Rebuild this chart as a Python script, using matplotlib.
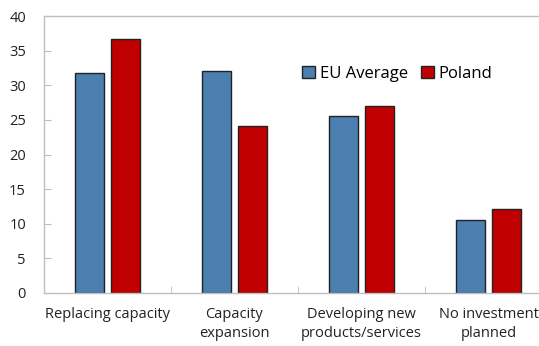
import numpy as np
import matplotlib.pyplot as plt

plt.rcParams['font.family'] = ['Open Sans', 'DejaVu Sans']

categories = ["Replacing capacity", "Capacity\nexpansion",
              "Developing new\nproducts/services", "No investment\nplanned"]
eu_average = [31.8, 32.1, 25.6, 10.5]
poland = [36.7, 24.1, 27.0, 12.1]

fig = plt.figure(figsize=(5.39, 3.46), dpi=100)
ax = fig.add_axes([44 / 539, 1 - 293 / 346, 508 / 539, 277 / 346])

x = np.arange(len(categories))
w = 0.228
off = 0.142
ax.bar(x - off, eu_average, width=w, color="#4a7fb0", edgecolor="#222222",
       linewidth=1.0, label="EU Average")
ax.bar(x + off, poland, width=w, color="#c00000", edgecolor="#222222",
       linewidth=1.0, label="Poland")

ax.set_xlim(-0.5, 3.5)
ax.set_ylim(0, 40)
ax.set_yticks(range(0, 41, 5))
ax.set_xticks(x)
ax.set_xticklabels(categories, fontsize=10.5, color="#222222", linespacing=1.4)
ax.set_xticks(np.arange(0.5, 3.5, 1), minor=True)
ax.tick_params(axis="x", which="major", length=0, pad=10)
ax.tick_params(axis="x", which="minor", direction="in", length=5, color="#bfbfbf")
ax.tick_params(axis="y", direction="in", length=5, color="#bfbfbf",
               labelsize=10.5, labelcolor="#222222", pad=13)

for side in ["left", "bottom", "top", "right"]:
    ax.spines[side].set_color("#bfbfbf")
    ax.spines[side].set_linewidth(1.0)

ax.legend(loc="upper left", bbox_to_anchor=(0.508, 0.819), ncol=2, frameon=False,
          fontsize=12, handlelength=0.75, handleheight=0.75, handletextpad=0.3,
          columnspacing=0.8, borderpad=0, borderaxespad=0)

fig.savefig("out.png", dpi=100)
